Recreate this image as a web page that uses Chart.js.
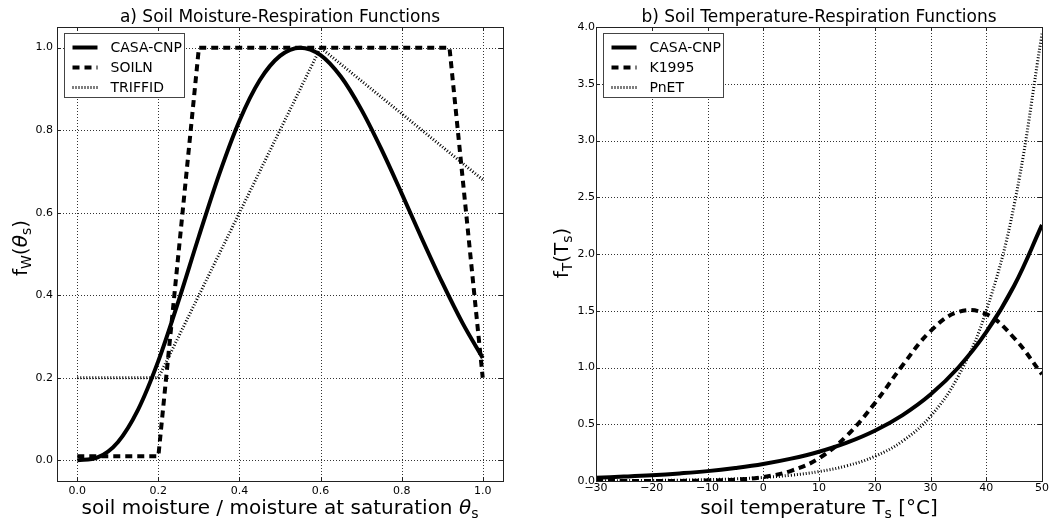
<!DOCTYPE html>
<html>
<head>
<meta charset="utf-8" />
<title>Soil Respiration Functions</title>
<script src="https://cdn.jsdelivr.net/npm/chart.js"></script>
<style>
  body { margin: 0; background: #fff; }
  #wrap { position: relative; width: 1056px; height: 522px; }
  .panel { position: absolute; top: 0; width: 528px; height: 522px; }
</style>
</head>
<body>
<div id="wrap">
  <div class="panel" style="left:0"><canvas id="moist" width="528" height="522"></canvas></div>
  <div class="panel" style="left:528px"><canvas id="temp" width="528" height="522"></canvas></div>
</div>
<script>
// panel a) soil moisture
const moisture = [0, 0.05, 0.1, 0.15, 0.2, 0.25, 0.3, 0.35, 0.4, 0.45, 0.5, 0.55, 0.6, 0.65, 0.7, 0.75, 0.8, 0.85, 0.9, 0.95, 1.0];
const casaMoisture = [0, 0.007, 0.044, 0.123, 0.241, 0.387, 0.543, 0.693, 0.823, 0.921, 0.980, 1.0, 0.982, 0.930, 0.851, 0.754, 0.647, 0.537, 0.431, 0.333, 0.248];
const soilnX = [0, 0.2, 0.3, 0.918, 1.0];
const soilnY = [0.01, 0.01, 1.0, 1.0, 0.2];
const triffidX = [0, 0.2, 0.6, 1.0];
const triffidY = [0.2, 0.2, 1.0, 0.68];
const moistureTicks = [0, 0.2, 0.4, 0.6, 0.8, 1.0];
const fwTicks = [0, 0.2, 0.4, 0.6, 0.8, 1.0];

// panel b) soil temperature
const temps = [-30, -25, -20, -15, -10, -5, 0, 5, 10, 15, 20, 25, 30, 35, 40, 45, 50];
const casaTemp = [0.029, 0.039, 0.051, 0.067, 0.087, 0.115, 0.150, 0.197, 0.258, 0.338, 0.443, 0.581, 0.762, 1.0, 1.311, 1.72, 2.256];
const k1995 = [0, 0, 0, 0.001, 0.004, 0.012, 0.035, 0.09, 0.20, 0.40, 0.685, 1.02, 1.32, 1.49, 1.47, 1.26, 0.94];
const pnet = [0.002, 0.003, 0.005, 0.007, 0.012, 0.019, 0.031, 0.051, 0.083, 0.134, 0.217, 0.352, 0.570, 0.925, 1.50, 2.43, 3.94];
const tempTicks = [-30, -20, -10, 0, 10, 20, 30, 40, 50];
const ftTicks = [0, 0.5, 1.0, 1.5, 2.0, 2.5, 3.0, 3.5, 4.0];

const FAM = '"DejaVu Sans", sans-serif';
const pts = (xs, ys) => xs.map((x, i) => ({ x: x, y: ys[i] }));

const solid = { borderColor: '#000', borderWidth: 4, borderDash: [] };
const dashed = { borderColor: '#000', borderWidth: 4, borderDash: [7, 5] };
const dotted = { borderColor: '#000', borderWidth: 3, borderDash: [1, 2] };

// draw text with subscripts / italic pieces, centered on x
function drawRich(ctx, segs, x, y, size) {
  const parts = segs.map(s => {
    const fs = s.sub ? size * 0.7 : size;
    const font = (s.it ? 'italic ' : '') + fs + 'px ' + FAM;
    ctx.font = font;
    return { t: s.t, font: font, w: ctx.measureText(s.t).width, dy: s.sub ? size * 0.22 : 0 };
  });
  const total = parts.reduce((a, p) => a + p.w, 0);
  let cx = x - total / 2;
  ctx.textAlign = 'left';
  ctx.textBaseline = 'alphabetic';
  parts.forEach(p => {
    ctx.font = p.font;
    ctx.fillText(p.t, cx, y + p.dy);
    cx += p.w;
  });
}

function makeDecor(cfg) {
  return {
    id: 'decor',
    beforeDatasetsDraw(chart) {
      const ctx = chart.ctx, a = chart.chartArea;
      const xs = chart.scales.x, ys = chart.scales.y;
      ctx.save();
      ctx.strokeStyle = '#333';
      ctx.lineWidth = 1;
      ctx.setLineDash([1, 2]);
      xs.ticks.forEach(t => {
        const px = Math.round(xs.getPixelForValue(t.value)) + 0.5;
        ctx.beginPath(); ctx.moveTo(px, a.top); ctx.lineTo(px, a.bottom); ctx.stroke();
      });
      ys.ticks.forEach(t => {
        const py = Math.round(ys.getPixelForValue(t.value)) + 0.5;
        ctx.beginPath(); ctx.moveTo(a.left, py); ctx.lineTo(a.right, py); ctx.stroke();
      });
      ctx.restore();
    },
    afterDatasetsDraw(chart) {
      const ctx = chart.ctx, a = chart.chartArea;
      const xs = chart.scales.x, ys = chart.scales.y;
      ctx.save();
      // frame
      ctx.strokeStyle = '#222';
      ctx.lineWidth = 1;
      ctx.strokeRect(Math.round(a.left) + 0.5, Math.round(a.top) + 0.5,
        Math.round(a.right - a.left), Math.round(a.bottom - a.top));
      // inward ticks on all sides
      ctx.beginPath();
      xs.ticks.forEach(t => {
        const px = Math.round(xs.getPixelForValue(t.value)) + 0.5;
        ctx.moveTo(px, a.bottom); ctx.lineTo(px, a.bottom - 4);
        ctx.moveTo(px, a.top); ctx.lineTo(px, a.top + 4);
      });
      ys.ticks.forEach(t => {
        const py = Math.round(ys.getPixelForValue(t.value)) + 0.5;
        ctx.moveTo(a.left, py); ctx.lineTo(a.left + 4, py);
        ctx.moveTo(a.right, py); ctx.lineTo(a.right - 4, py);
      });
      ctx.stroke();

      // legend
      const bx = Math.round(a.left) + 7.5, by = Math.round(a.top) + 6.5;
      ctx.fillStyle = '#fff';
      ctx.fillRect(bx, by, 120, 64);
      ctx.strokeStyle = '#444';
      ctx.lineWidth = 1;
      ctx.strokeRect(bx, by, 120, 64);
      chart.data.datasets.forEach((ds, i) => {
        const ry = by + 14 + i * 20;
        ctx.beginPath();
        ctx.strokeStyle = ds.borderColor;
        ctx.lineWidth = ds.borderWidth;
        ctx.setLineDash(ds.borderDash);
        ctx.moveTo(bx + 8, ry); ctx.lineTo(bx + 33, ry);
        ctx.stroke();
        ctx.setLineDash([]);
        ctx.fillStyle = '#000';
        ctx.font = '14px ' + FAM;
        ctx.textAlign = 'left';
        ctx.textBaseline = 'middle';
        ctx.fillText(ds.label, bx + 46, ry + 1);
      });

      // titles
      ctx.fillStyle = '#000';
      const cxm = (a.left + a.right) / 2;
      ctx.font = '17px ' + FAM;
      ctx.textAlign = 'center';
      ctx.textBaseline = 'alphabetic';
      ctx.fillText(cfg.title, cxm, 22);
      drawRich(ctx, cfg.xTitle, cxm, 514, 20);
      ctx.translate(cfg.yTitleX, cfg.yTitleY);
      ctx.rotate(-Math.PI / 2);
      drawRich(ctx, cfg.yTitle, 0, 0, 20);
      ctx.restore();
    }
  };
}

function axis(min, max, tickVals, fmt, size, pad) {
  return {
    type: 'linear',
    min: min,
    max: max,
    grid: { display: false, drawTicks: false, tickLength: 0 },
    border: { display: false },
    afterBuildTicks: s => { s.ticks = tickVals.map(v => ({ value: v })); },
    ticks: {
      color: '#000',
      font: { family: FAM, size: 11 },
      padding: pad,
      autoSkip: false,
      maxRotation: 0,
      callback: fmt
    },
    afterFit: s => {
      if (s.isHorizontal()) s.height = size; else s.width = size;
    }
  };
}

const fmt1 = v => Number(v).toFixed(1);
const fmtInt = v => String(Math.round(v)).replace('-', '\u2212');

new Chart(document.getElementById('moist'), {
  type: 'scatter',
  data: {
    datasets: [
      Object.assign({ label: 'CASA-CNP', data: pts(moisture, casaMoisture), cubicInterpolationMode: 'monotone' }, solid),
      Object.assign({ label: 'SOILN', data: pts(soilnX, soilnY), tension: 0 }, dashed),
      Object.assign({ label: 'TRIFFID', data: pts(triffidX, triffidY), tension: 0 }, dotted)
    ].map(d => Object.assign(d, { showLine: true, pointRadius: 0, fill: false, clip: 0 }))
  },
  options: {
    responsive: false,
    animation: false,
    layout: { padding: { top: 27, right: 25, left: 0, bottom: 0 } },
    plugins: { legend: { display: false }, tooltip: { enabled: false } },
    scales: {
      x: axis(-0.05, 1.05, moistureTicks, fmt1, 41, 4),
      y: axis(-0.05, 1.05, fwTicks, fmt1, 57, 4)
    }
  },
  plugins: [makeDecor({
    title: 'a) Soil Moisture-Respiration Functions',
    xTitle: [{ t: 'soil moisture / moisture at saturation ' }, { t: '\u03b8', it: true }, { t: 's', sub: true }],
    yTitle: [{ t: 'f' }, { t: 'W', sub: true }, { t: '(' }, { t: '\u03b8', it: true }, { t: 's', sub: true }, { t: ')' }],
    yTitleX: 27, yTitleY: 248
  })]
});

new Chart(document.getElementById('temp'), {
  type: 'scatter',
  data: {
    datasets: [
      Object.assign({ label: 'CASA-CNP', data: pts(temps, casaTemp) }, solid),
      Object.assign({ label: 'K1995', data: pts(temps, k1995) }, dashed),
      Object.assign({ label: 'PnET', data: pts(temps, pnet) }, dotted)
    ].map(d => Object.assign(d, { showLine: true, pointRadius: 0, fill: false, clip: 0, tension: 0.4 }))
  },
  options: {
    responsive: false,
    animation: false,
    layout: { padding: { top: 27, right: 14, left: 0, bottom: 0 } },
    plugins: { legend: { display: false }, tooltip: { enabled: false } },
    scales: {
      x: axis(-30, 50, tempTicks, fmtInt, 41, 1),
      y: axis(0, 4, ftTicks, fmt1, 68, 1)
    }
  },
  plugins: [makeDecor({
    title: 'b) Soil Temperature-Respiration Functions',
    xTitle: [{ t: 'soil temperature T' }, { t: 's', sub: true }, { t: ' [\u00b0C]' }],
    yTitle: [{ t: 'f' }, { t: 'T', sub: true }, { t: '(T' }, { t: 's', sub: true }, { t: ')' }],
    yTitleX: 40, yTitleY: 253
  })]
});
</script>
</body>
</html>
